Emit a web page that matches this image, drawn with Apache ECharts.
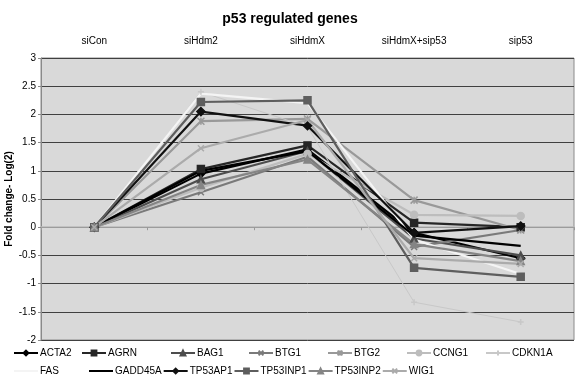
<!DOCTYPE html>
<html>
<head>
<meta charset="utf-8">
<script src="https://cdn.jsdelivr.net/npm/echarts@6/dist/echarts.min.js"></script>
<style>html,body{margin:0;padding:0;background:#fff}#c{width:576px;height:388px}</style>
</head>
<body>
<div id="c"></div>
<script>
var categories = ['siCon', 'siHdm2', 'siHdmX', 'siHdmX+sip53', 'sip53'];
var yTicks = [-2, -1.5, -1, -0.5, 0, 0.5, 1, 1.5, 2, 2.5, 3];
var yTitle = 'Fold change- Log(2)';

var ACTA2    = [0, 0.95, 1.38, -0.10, -0.55];
var AGRN     = [0, 1.03, 1.45,  0.08,  0.00];
var BAG1     = [0, 0.85, 1.35, -0.20, -0.50];
var BTG1     = [0, 0.62, 1.25, -0.35, -0.05];
var BTG2     = [0, 1.88, 1.92,  0.48, -0.05];
var CCNG1    = [0, 0.70, 1.30,  0.22,  0.20];
var CDKN1A   = [0, 2.40, 1.78, -1.33, -1.68];
var FAS      = [0, 2.37, 2.20, -0.22, -0.83];
var GADD45A  = [0, 1.00, 1.35, -0.15, -0.33];
var TP53AP1  = [0, 2.05, 1.80, -0.10,  0.02];
var TP53INP1 = [0, 2.22, 2.25, -0.72, -0.88];
var TP53INP2 = [0, 0.75, 1.20, -0.30, -0.60];
var WIG1     = [0, 1.40, 1.90, -0.55, -0.65];

var FONT = '"Liberation Sans", Arial, sans-serif';
var XSYM = 'path://M0,0L10,10M10,0L0,10';
var STAR = 'path://M0,0L10,10M10,0L0,10M5,0L5,10';
var PLUS = 'path://M5,0L5,10M0,5L10,5';

var seriesDefs = [
  {name:'ACTA2', data:ACTA2, color:'#000000', symbol:'diamond', size:8},
  {name:'AGRN', data:AGRN, color:'#262626', symbol:'rect', size:7},
  {name:'BAG1', data:BAG1, color:'#4d4d4d', symbol:'triangle', size:7},
  {name:'BTG1', data:BTG1, color:'#7a7a7a', symbol:XSYM, size:6},
  {name:'BTG2', data:BTG2, color:'#999999', symbol:STAR, size:7},
  {name:'CCNG1', data:CCNG1, color:'#bdbdbd', symbol:'circle', size:7},
  {name:'CDKN1A', data:CDKN1A, color:'#c8c8c8', symbol:PLUS, size:6, width:1},
  {name:'FAS', data:FAS, color:'#f4f4f4', symbol:'none', size:0},
  {name:'GADD45A', data:GADD45A, color:'#000000', symbol:'none', size:0},
  {name:'TP53AP1', data:TP53AP1, color:'#111111', symbol:'diamond', size:8},
  {name:'TP53INP1', data:TP53INP1, color:'#5e5e5e', symbol:'rect', size:7},
  {name:'TP53INP2', data:TP53INP2, color:'#858585', symbol:'triangle', size:7},
  {name:'WIG1', data:WIG1, color:'#ababab', symbol:XSYM, size:6}
];

var series = seriesDefs.map(function(d){
  return {
    name: d.name, type: 'line', data: d.data, xAxisIndex: 0,
    symbol: d.symbol, symbolSize: d.size, showSymbol: d.symbol !== 'none',
    lineStyle: {color: d.color, width: d.width || 2.2},
    itemStyle: {color: d.color, borderColor: d.color, borderWidth: 1.5},
    emphasis: {disabled: true}, animation: false
  };
});

function legendItem(name) {
  var def = seriesDefs.filter(function(d){ return d.name === name; })[0];
  if (def.symbol === 'none') {
    return {name: name, itemStyle: {opacity: 0, color: 'transparent', borderWidth: 0}};
  }
  return {name: name};
}

var legendText = {fontFamily: FONT, fontSize: 10, color: '#000', padding: [0, 0, 0, -3]};
var row1 = [['ACTA2', 13], ['AGRN', 81], ['BAG1', 170], ['BTG1', 248], ['BTG2', 327], ['CCNG1', 406], ['CDKN1A', 485]];
var legends = row1.map(function(p){
  return {data: [legendItem(p[0])], left: p[1], top: 348, itemWidth: 24, itemHeight: 6, padding: 0,
          selectedMode: false, textStyle: legendText};
});
legends.push({data: [legendItem('FAS')], left: 13, top: 366, itemWidth: 24, itemHeight: 6, padding: 0,
              selectedMode: false, textStyle: legendText});
legends.push({data: ['GADD45A', 'TP53AP1', 'TP53INP1', 'TP53INP2', 'WIG1'].map(legendItem), left: 88, top: 366,
              itemWidth: 24, itemHeight: 6, itemGap: 1, padding: 0,
              selectedMode: false, textStyle: legendText});

var chart = echarts.init(document.getElementById('c'), null, {renderer: 'canvas'});
chart.setOption({
  animation: false,
  backgroundColor: '#ffffff',
  title: {
    text: 'p53 regulated genes', left: 285, top: 7, textAlign: 'center',
    textStyle: {fontFamily: FONT, fontSize: 14, fontWeight: 'bold', color: '#000'}
  },
  legend: legends,
  graphic: [{
    type: 'text', x: 9, y: 199, rotation: Math.PI / 2, silent: true,
    style: {text: yTitle, fontFamily: FONT, fontSize: 10, fontWeight: 'bold', fill: '#000',
            align: 'center', verticalAlign: 'middle'}
  }],
  grid: {left: 41, right: 2, top: 58, bottom: 48, outerBoundsMode: 'none', containLabel: false,
         show: true, backgroundColor: '#d9d9d9', borderColor: '#8a8a8a', borderWidth: 1},
  xAxis: [
    {type: 'category', data: categories, position: 'bottom',
     axisLine: {onZero: true, lineStyle: {color: '#bbbbbb', width: 1.5}},
     axisTick: {show: true, length: 3, lineStyle: {color: '#999'}},
     axisLabel: {show: false}, splitLine: {show: false}},
    {type: 'category', data: categories, position: 'top',
     axisLine: {show: false}, axisTick: {show: false},
     axisLabel: {fontFamily: FONT, fontSize: 10, color: '#000', margin: 12}}
  ],
  yAxis: {
    type: 'value', min: yTicks[0], max: yTicks[yTicks.length - 1], interval: 0.5,
    axisLine: {show: true, lineStyle: {color: '#8a8a8a'}},
    axisTick: {show: true, length: 3, lineStyle: {color: '#8a8a8a'}},
    axisLabel: {fontFamily: FONT, fontSize: 10, color: '#000', margin: 5},
    splitLine: {lineStyle: {color: '#404040', width: 1}}
  },
  series: series
});
</script>
</body>
</html>
